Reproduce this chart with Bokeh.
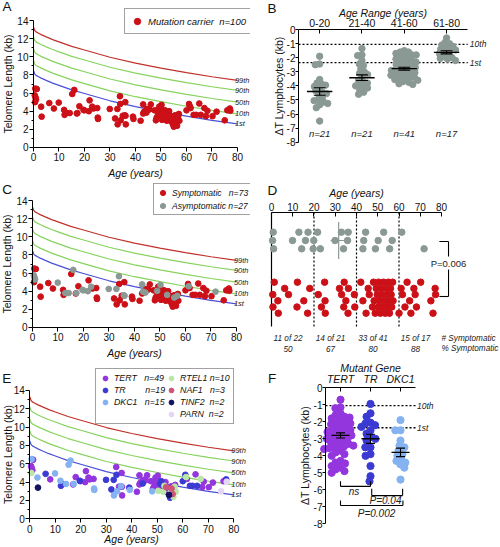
import numpy as np
from bokeh.plotting import figure
from bokeh.layouts import column, row
from bokeh.models import Legend, LegendItem, Label, FixedTicker, Range1d
from bokeh.core.properties import value
from bokeh.embed import file_html
from bokeh.resources import INLINE

FONT = "Liberation Sans"
RED = "#cc1018"
GREY = "#8b9995"
C99 = "#c0302a"
CGREEN = "#86d35e"
C1 = "#4a50d6"
INK = "#111111"
GENE_COLORS = {"TERT": "#9436de", "TR": "#3b3bd3", "DKC1": "#85b3f1", "RTEL1": "#bce6a6",
               "NAF1": "#cf5578", "TINF2": "#12125e", "PARN": "#e4d6f6"}

# ---------------- data ----------------
pct_age = [0, 0.5, 1, 2, 3, 5, 7.5, 10, 15, 20, 30, 40, 50, 60, 70, 80]
pct_99 = [13.3, 12.9, 12.75, 12.6, 12.45, 12.2, 11.9, 11.65, 11.15, 10.75, 9.95, 9.3, 8.75, 8.25, 7.8, 7.4]
pct_90 = [12.2, 11.8, 11.65, 11.5, 11.35, 11.1, 10.8, 10.55, 10.05, 9.65, 8.85, 8.2, 7.65, 7.15, 6.7, 6.3]
pct_50 = [10.9, 10.5, 10.35, 10.2, 10.05, 9.8, 9.5, 9.25, 8.75, 8.35, 7.55, 6.9, 6.35, 5.85, 5.4, 5.0]
pct_10 = [9.6, 9.2, 9.05, 8.9, 8.75, 8.5, 8.2, 7.95, 7.45, 7.05, 6.25, 5.6, 5.05, 4.55, 4.1, 3.7]
pct_1 = [8.5, 8.1, 7.95, 7.8, 7.65, 7.4, 7.1, 6.85, 6.35, 5.95, 5.15, 4.5, 3.95, 3.45, 3.0, 2.6]
pct_labels = ["99th", "90th", "50th", "10th", "1st"]

sym_age = [0.7, 1.3, 0.6, 3.0, 3.2, 6.2, 8.0, 12.0, 12.2, 15.2, 17.0, 18.0,
           22.0, 23.5, 25.0, 25.2, 25.3, 32.0, 33.0, 34.0, 34.2, 35.0, 36.0, 36.2, 39.0, 39.2,
           42.0, 43.0, 44.5, 45.5, 46.0, 47.5, 48.0, 48.3, 48.8, 49.3, 49.8, 50.2, 50.4, 50.8,
           51.2, 51.6, 52.0, 52.3, 52.7, 53.2, 53.5, 54.0, 54.3, 54.6, 55.0, 55.2, 55.5, 56.0,
           56.3, 56.6, 57.0, 57.2, 60.0,
           61.0, 61.6, 62.8, 63.8, 65.0, 65.6, 67.0, 67.6, 68.2, 70.2, 75.0, 76.0, 77.0, 77.2]
sym_tl = [6.5, 6.45, 5.0, 4.5, 3.4, 4.9, 4.3, 4.15, 3.6, 5.9, 3.75, 4.55,
          5.2, 4.3, 4.35, 3.3, 3.15, 3.2, 2.55, 4.8, 3.0, 3.5, 5.0, 2.55, 3.4, 3.15,
          2.95, 3.75, 4.25, 4.2, 4.75, 4.1, 3.0, 3.3, 3.55, 4.5, 3.9, 4.3, 3.05, 3.6,
          3.8, 4.1, 3.5, 2.95, 3.2, 4.0, 3.45, 2.9, 3.35, 2.6, 2.3, 2.85, 3.55, 2.7,
          2.4, 3.15, 3.7, 2.95, 4.1,
          4.8, 4.35, 3.6, 3.6, 4.85, 3.6, 4.35, 3.45, 4.05, 3.45, 3.0, 4.1, 4.3, 4.05]
sym_gene = ["DKC1", "TERT", "RTEL1", "DKC1", "TINF2", "TR", "TERT", "DKC1", "TR", "DKC1", "TERT", "TERT",
            "TERT", "TERT", "TERT", "DKC1", "DKC1", "TR", "DKC1", "TR", "DKC1", "TERT", "TERT", "TERT", "TR", "DKC1",
            "TERT", "TERT", "TERT", "TERT", "TERT", "TERT", "DKC1", "TERT", "TERT", "TERT", "TERT", "TERT", "RTEL1", "TERT",
            "TR", "TR", "TERT", "RTEL1", "TERT", "TERT", "NAF1", "TERT", "TERT", "TINF2", "TR", "RTEL1", "TERT", "NAF1",
            "RTEL1", "TERT", "TERT", "RTEL1", "TR",
            "TR", "TERT", "TR", "TR", "TERT", "TR", "RTEL1", "TERT", "TERT", "TERT", "PARN", "TERT", "TR", "PARN"]

asym_age = [0.5, 0.8, 1.0, 9.9, 12.9, 14.2, 16.0, 17.2, 19.6, 19.9,
            21.7, 23.0, 29.9, 32.9, 33.9, 35.8, 36.1,
            43.0, 43.4, 44.3, 48.9, 50.2, 52.8, 55.6, 56.8, 61.3, 71.8]
asym_tl = [5.75, 5.5, 5.3, 4.95, 3.8, 3.8, 6.35, 3.8, 4.15, 4.1,
           4.0, 4.5, 4.25, 4.25, 5.65, 3.55, 3.5,
           4.75, 3.95, 3.85, 4.05, 4.7, 3.6, 3.3, 3.5, 4.55, 3.95]
asym_gene = ["TERT", "TERT", "TERT", "DKC1", "TR", "DKC1", "DKC1", "DKC1", "TR", "TERT",
             "TERT", "TERT", "TR", "TR", "TERT", "DKC1", "TERT",
             "TERT", "TERT", "TR", "TERT", "TERT", "RTEL1", "NAF1", "RTEL1", "RTEL1", "TERT"]

b_groups = ["0-20", "21-40", "41-60", "61-80"]
b_0_20 = [-1.9, -2.45, -2.5, -3.55, -3.8, -3.85, -3.95, -4.05, -4.2, -4.35, -4.45, -4.55, -4.65, -4.85,
          -5.0, -5.05, -5.15, -5.25, -5.35, -5.55, -6.5]
b_21_40 = [-1.35, -1.8, -1.85, -2.2, -2.45, -2.55, -2.8, -3.0, -3.1, -3.2, -3.4, -3.6, -3.7, -3.8,
           -3.9, -4.0, -4.1, -4.15, -4.3, -4.45, -4.6]
b_41_60 = [-1.5, -1.6, -1.6, -1.7, -1.8, -1.8, -1.9, -2.0, -2.0, -2.1, -2.2, -2.25, -2.3, -2.4, -2.45,
           -2.5, -2.6, -2.65, -2.7, -2.75, -2.8, -2.85, -2.9, -2.95, -3.0, -3.05, -3.1, -3.15, -3.2,
           -3.25, -3.3, -3.35, -3.4, -3.45, -3.5, -3.55, -3.6, -3.7, -3.75, -3.85, -3.9]
b_61_80 = [-0.6, -0.9, -1.0, -1.1, -1.2, -1.3, -1.4, -1.45, -1.5, -1.6, -1.7, -1.8, -1.9, -2.0,
           -2.05, -2.1, -2.2]
b_mean = [-4.4, -3.42, -2.78, -1.62]
b_sem = [0.27, 0.2, 0.1, 0.11]
delta_pct = [-1.05, -2.35]
delta_pct_labels = ["10th", "1st"]

d_bin_lo = [0, 20, 40, 60]
d_sym = [11, 14, 33, 15]
d_tot = [22, 21, 41, 17]
d_p_text = "P=0.006"

f_genes = ["TERT", "TR", "DKC1"]
f_tert = [-0.7, -1.15, -1.2, -1.5, -1.6, -1.7, -1.75, -1.8, -1.9, -2.0, -2.0, -2.1, -2.15, -2.2, -2.3,
          -2.4, -2.45, -2.5, -2.6, -2.7, -2.75, -2.8, -2.85, -2.9, -3.0, -3.0, -3.1, -3.15, -3.2, -3.3,
          -3.35, -3.4, -3.45, -3.5, -3.55, -3.6, -3.7, -3.8, -3.9, -4.0, -4.3, -4.4, -4.45, -4.6, -4.7,
          -4.8, -4.9, -5.0, -2.55]
f_tr = [-0.95, -1.5, -1.7, -2.05, -2.1, -2.2, -2.3, -2.5, -2.7, -2.9, -3.0, -3.1, -3.5, -3.5, -3.9,
        -4.0, -4.6, -5.2, -5.5]
f_dkc1 = [-1.9, -2.5, -2.5, -3.1, -3.4, -3.5, -3.7, -3.9, -4.0, -4.2, -4.3, -4.4, -4.5, -4.7, -5.4]
f_mean = [-2.8, -3.0, -3.8]
f_sem = [0.15, 0.27, 0.25]
f_compare = [(1, 2, "ns"), (2, 3, "P=0.04"), (1, 3, "P=0.002")]

gene_order = ["TERT", "TR", "DKC1", "RTEL1", "NAF1", "TINF2", "PARN"]

all_age = sym_age + asym_age
all_tl = sym_tl + asym_tl
all_gene = sym_gene + asym_gene
NB = "\u00a0"
DOT = "2 2"
W = 250


# ---------------- helpers ----------------
def swarm(vals, px_x, px_y, d):
    vals = np.asarray(vals, float)
    order = np.argsort(-vals, kind="stable")
    placed = []
    off = np.zeros(len(vals))
    for i in order:
        y = vals[i] * px_y
        forb = []
        for xp, yp in placed:
            dy = abs(y - yp)
            if dy < d:
                w = np.sqrt(d * d - dy * dy)
                forb.append((xp - w, xp + w))
        cands = [0.0] + [a for a, b in forb] + [b for a, b in forb]
        cands.sort(key=lambda c: (abs(c), c))
        x = 0.0
        for c in cands:
            if all(not (a + 1e-9 < c < b - 1e-9) for a, b in forb):
                x = c
                break
        placed.append((x, y))
        off[i] = x / px_x
    return off


def strip_rows(ages, pref):
    ages = np.asarray(ages, float)
    order = np.argsort(ages, kind="stable")
    last = {r: -1e9 for r in pref}
    out = np.zeros(len(ages), int)
    for i in order:
        r = min(pref, key=lambda k: (last[k], pref.index(k)))
        out[i] = r
        last[r] = ages[i]
    return out


def mk(h, xr, yr, xloc="below", yloc="left"):
    # the frame fills the whole canvas; axes sit at fixed data locations inside it
    p = figure(width=W, height=h, x_range=Range1d(*xr), y_range=Range1d(*yr),
               output_backend="svg", toolbar_location=None,
               x_axis_location=xloc, y_axis_location=yloc,
               min_border=0, min_border_left=0, min_border_right=0,
               min_border_top=0, min_border_bottom=0)
    p.xgrid.visible = False
    p.ygrid.visible = False
    p.outline_line_color = None
    p.background_fill_color = "white"
    p.border_fill_color = "white"
    return p


def style_axis(ax, tick_size="10px", label_size="10.5px", label_italic=False, tick_italic=False,
               tick_out=4, tick_in=0, lstand=2, astand=3):
    ax.axis_line_color = "black"
    ax.axis_line_width = 1
    ax.major_tick_line_color = "black"
    ax.minor_tick_line_color = "black"
    ax.major_tick_out = tick_out
    ax.major_tick_in = tick_in
    ax.minor_tick_out = 2
    ax.minor_tick_in = 0
    ax.major_label_text_font = FONT
    ax.major_label_text_font_size = tick_size
    ax.major_label_text_color = INK
    ax.major_label_text_font_style = "italic" if tick_italic else "normal"
    ax.axis_label_text_font = FONT
    ax.axis_label_text_font_size = label_size
    ax.axis_label_text_font_style = "italic" if label_italic else "normal"
    ax.axis_label_text_color = INK
    ax.major_label_standoff = lstand
    ax.axis_label_standoff = astand


def style_legend(lg, glyph, pad, fs):
    lg.border_line_color = "#444444"
    lg.border_line_width = 1
    lg.background_fill_color = "white"
    lg.background_fill_alpha = 1
    lg.label_text_font = FONT
    lg.label_text_font_style = "italic"
    lg.label_text_font_size = fs
    lg.label_text_color = INK
    lg.glyph_width = glyph
    lg.glyph_height = glyph
    lg.label_height = 8
    lg.label_width = 10
    lg.label_standoff = 3
    lg.padding = pad
    lg.spacing = 0
    lg.margin = 0


def letter(p, txt, lx, ly, h):
    p.add_layout(Label(x=lx, y=h - ly + 2.5, x_units="screen", y_units="screen",
                       text=txt, text_font=FONT, text_font_size="13.5px", text_color=INK,
                       text_baseline="top", text_align="left"))


def tl_panel(h, xr, yr, xstand, ystand):
    p = mk(h, xr, yr)
    xa = p.xaxis[0]
    ya = p.yaxis[0]
    xa.fixed_location = 0
    ya.fixed_location = 0
    xa.ticker = FixedTicker(ticks=list(range(0, 81, 10)))
    xa.bounds = (0, 80)
    xa.axis_label = "Age (years)"
    style_axis(xa, label_italic=True, astand=xstand)
    ya.ticker = FixedTicker(ticks=list(range(0, 15, 2)), minor_ticks=list(range(1, 14, 2)))
    ya.bounds = (0, 14)
    ya.axis_label = "Telomere Length (kb)"
    style_axis(ya, tick_out=4, lstand=1, astand=ystand)
    curves = [pct_99, pct_90, pct_50, pct_10, pct_1]
    cols = [C99, CGREEN, CGREEN, CGREEN, C1]
    for ys, c in zip(curves, cols):
        p.line(pct_age, ys, line_color=c, line_width=1.2)
    p.text(x=[79.0] * 5, y=[c[-1] for c in curves], text=pct_labels,
           text_font=value(FONT), text_font_style="italic", text_font_size="7.5px",
           text_align="left", text_baseline="middle", text_color="#222222")
    return p


def delta_axes(p, cats, bounds_hi, title, tick_italic, astand_top, ystand):
    xa = p.xaxis[0]
    ya = p.yaxis[0]
    xa.fixed_location = 0
    ya.fixed_location = 0.5
    xa.ticker = FixedTicker(ticks=list(range(1, len(cats) + 1)))
    xa.major_label_overrides = {i + 1: c for i, c in enumerate(cats)}
    xa.bounds = (0.5, bounds_hi)
    xa.axis_label = title
    style_axis(xa, tick_size="10.5px", label_italic=True, tick_italic=tick_italic,
               tick_out=0, tick_in=4, lstand=3, astand=astand_top)
    ya.ticker = FixedTicker(ticks=list(range(0, -9, -1)))
    ya.major_label_overrides = {t: str(t) for t in range(0, -9, -1)}
    ya.bounds = (-8, 0)
    ya.axis_label = "\u0394T Lymphocytes (kb)"
    style_axis(ya, tick_out=3, lstand=0, astand=ystand)


def dot_groups(p, groups, colors, size, px_x, px_y, d, mean, sem, mw, cw):
    for i, (vals, col) in enumerate(zip(groups, colors)):
        off = swarm(vals, px_x, px_y, d)
        p.scatter(i + 1 + off, vals, size=size, fill_color=col, line_color=col)
    xs = np.arange(1, len(groups) + 1)
    m = np.asarray(mean)
    s = np.asarray(sem)
    p.segment(x0=xs - mw, y0=m, x1=xs + mw, y1=m, line_color="black", line_width=1.4)
    p.segment(x0=xs, y0=m - s, x1=xs, y1=m + s, line_color="black", line_width=1.1)
    p.segment(x0=xs - cw, y0=m + s, x1=xs + cw, y1=m + s, line_color="black", line_width=1.1)
    p.segment(x0=xs - cw, y0=m - s, x1=xs + cw, y1=m - s, line_color="black", line_width=1.1)


def pct_guides(p, x_hi):
    n = len(delta_pct)
    p.segment(x0=[0.5] * n, y0=delta_pct, x1=[x_hi] * n, y1=delta_pct, line_color="black",
              line_width=1.3, line_dash=DOT)
    p.text(x=[x_hi + 0.05] * n, y=delta_pct, text=delta_pct_labels, text_font=value(FONT),
           text_font_style="italic", text_font_size="8.5px", text_align="left",
           text_baseline="middle", text_color="#222222")


# ---------------- panel A ----------------
pA = tl_panel(180, (-12.94, 85.1), (-3.64, 16.21), 2, 0)
rA = pA.scatter(all_age, all_tl, size=5.7, fill_color=RED, line_color=RED)
legA = Legend(items=[LegendItem(label=f"Mutation carrier{NB}{NB}n={len(all_age)}", renderers=[rA])],
              location=(124, 146))
style_legend(legA, 16, 4, "9.5px")
pA.add_layout(legA)
letter(pA, "A", 2, 1, 180)

# ---------------- panel B ----------------
pB = mk(180, (-0.635, 5.275), (-10.72, 2.06), xloc="above")
delta_axes(pB, b_groups, 4.5, "Age Range (years)", False, -3, -1)
pct_guides(pB, 4.5)
b_vals = [b_0_20, b_21_40, b_41_60, b_61_80]
dot_groups(pB, b_vals, [GREY] * 4, 6.4, 42.3, 14.08, 4.4, b_mean, b_sem, 0.3, 0.14)
pB.text(x=[1, 2, 3, 4], y=[-7.35] * 4, text=[f"n={len(v)}" for v in b_vals],
        text_font=value(FONT), text_font_style="italic", text_font_size="9.5px",
        text_align="center", text_baseline="middle", text_color="#222222")
letter(pB, "B", 17, 3, 180)

# ---------------- panel C ----------------
pC = tl_panel(180, (-12.55, 85.5), (-3.64, 16.21), 2, 0)
rCs = pC.scatter(sym_age, sym_tl, size=5.7, fill_color=RED, line_color=RED)
rCa = pC.scatter(asym_age, asym_tl, size=5.7, fill_color=GREY, line_color=GREY)
legC = Legend(items=[LegendItem(label=f"Symptomatic{NB}{NB}{NB}n={len(sym_age)}", renderers=[rCs]),
                     LegendItem(label=f"Asymptomatic{NB}n={len(asym_age)}", renderers=[rCa])],
              location=(153, 145))
style_legend(legC, 13, 2, "8.6px")
pC.add_layout(legC)
letter(pC, "C", 1.7, 4, 180)

# ---------------- panel D ----------------
pD = mk(180, (-9.88, 107.76), (-34, 146), xloc="above", yloc=None)
xa = pD.xaxis[0]
xa.fixed_location = 114
xa.ticker = FixedTicker(ticks=list(range(0, 81, 10)))
xa.bounds = (0, 80)
xa.axis_label = "Age (years)"
style_axis(xa, label_italic=True, tick_out=0, tick_in=4, lstand=2, astand=1)
pD.segment(x0=[0], y0=[0], x1=[0], y1=[114], line_color="black", line_width=1.2)
pD.segment(x0=d_bin_lo[1:], y0=[0] * 3, x1=d_bin_lo[1:], y1=[114] * 3, line_color="black",
           line_width=1.2, line_dash=DOT)
grey_rows = [94.3, 86.0, 77.7]
red_rows = [44.3, 38.1, 31.9, 25.7, 19.5, 13.3]
gr = strip_rows(asym_age, [1, 0, 2])
rr = strip_rows(sym_age, [2, 4, 0, 3, 5, 1])
pD.scatter(asym_age, [grey_rows[k] for k in gr], size=6.5, fill_color=GREY, line_color=GREY)
pD.scatter(sym_age, [red_rows[k] for k in rr], size=6.5, fill_color=RED, line_color=RED)
g_mean = float(np.mean(asym_age))
g_sem = float(np.std(asym_age, ddof=1) / np.sqrt(len(asym_age)))
pD.segment(x0=[g_mean - g_sem], y0=[86], x1=[g_mean + g_sem], y1=[86], line_color=GREY, line_width=1.2)
pD.segment(x0=[g_mean], y0=[67.5], x1=[g_mean], y1=[104.5], line_color=GREY, line_width=1.2)
pD.segment(x0=[79, 79, 83.3, 83.3], y0=[85, 30, 85, 30], x1=[83.3, 83.3, 83.3, 83.3],
           y1=[85, 30, 70, 57], line_color="black", line_width=1.1)
pD.text(x=[83.3], y=[63.5], text=[d_p_text], text_font=value(FONT), text_font_size="9.5px",
        text_align="center", text_baseline="middle", text_color="#222222")
d_x = [lo + 7.8 for lo in d_bin_lo]
pD.text(x=d_x + [80], y=[-12] * 5, text=[f"{s} of {t}" for s, t in zip(d_sym, d_tot)] + ["# Symptomatic"],
        text_font=value(FONT), text_font_style="italic", text_font_size="8.2px",
        text_align=["center"] * 4 + ["left"], text_baseline="middle", text_color="#222222")
pD.text(x=d_x + [80], y=[-22] * 5,
        text=[f"{round(100 * s / t)}" for s, t in zip(d_sym, d_tot)] + ["% Symptomatic"],
        text_font=value(FONT), text_font_style="italic", text_font_size="8.2px",
        text_align=["center"] * 4 + ["left"], text_baseline="middle", text_color="#222222")
letter(pD, "D", 17, 5, 180)

# ---------------- panel E ----------------
pE = tl_panel(186, (-11.49, 86.55), (-3.02, 17.26), -3, -4)
items_l = []
for g in gene_order:
    idx = [i for i, gg in enumerate(all_gene) if gg == g]
    r = pE.scatter([all_age[i] for i in idx], [all_tl[i] for i in idx], size=5.7,
                   fill_color=GENE_COLORS[g], line_color=GENE_COLORS[g])
    items_l.append((g, len(idx), r))
pad_map = {"TERT": 3, "TR": 8, "DKC1": 3, "RTEL1": 1, "NAF1": 3, "TINF2": 2, "PARN": 2}
blank = pE.scatter([], [], size=1, fill_alpha=0, line_alpha=0)
leg_items = []
for g, n, r in items_l[:3]:
    leg_items.append(LegendItem(label=f"{g}{NB * pad_map[g]}n={n}", renderers=[r]))
leg_items.append(LegendItem(label=NB, renderers=[blank]))
for g, n, r in items_l[3:]:
    leg_items.append(LegendItem(label=f"{g}{NB * pad_map[g]}n={n}", renderers=[r]))
legE = Legend(items=leg_items, location=(95, 122), ncols=2)
style_legend(legE, 12, 3, "8.8px")
pE.add_layout(legE)
letter(pE, "E", 1.7, 13, 186)

# ---------------- panel F ----------------
pF = mk(186, (-2.0, 6.333), (-9.335, 1.606), xloc="above")
delta_axes(pF, f_genes, 3.5, "Mutant Gene", True, -4, 0)
pct_guides(pF, 3.5)
f_vals = [f_tert, f_tr, f_dkc1]
dot_groups(pF, f_vals, [GENE_COLORS[g] for g in f_genes], 7.2, 30.0, 17.0, 5.2, f_mean, f_sem, 0.3, 0.15)
f_levels = [(-5.5, -5.8, -6.12, 1.45), (-5.94, -6.34, -6.64, 2.5), (-6.63, -6.92, -7.4, 2.2)]
f_dx = [(0, 0), (0.04, 0.07), (0, 0.08)]
for (a, b, t), (ytop, ybar, ytxt, xtxt), (da, db) in zip(f_compare, f_levels, f_dx):
    xa0, xb0 = a + da, b + db
    pF.segment(x0=[xa0, xb0, xa0], y0=[ytop, ytop, ybar], x1=[xa0, xb0, xb0], y1=[ybar, ybar, ybar],
               line_color="black", line_width=1.1)
    pF.text(x=[xtxt], y=[ytxt], text=[t], text_font=value(FONT), text_font_style="italic",
            text_font_size="10px", text_align="center", text_baseline="middle", text_color="#222222")
letter(pF, "F", 17.5, 13, 186)

layout = column(row(pA, pB), row(pC, pD), row(pE, pF))
open("out.html", "w").write(file_html(layout, INLINE))
